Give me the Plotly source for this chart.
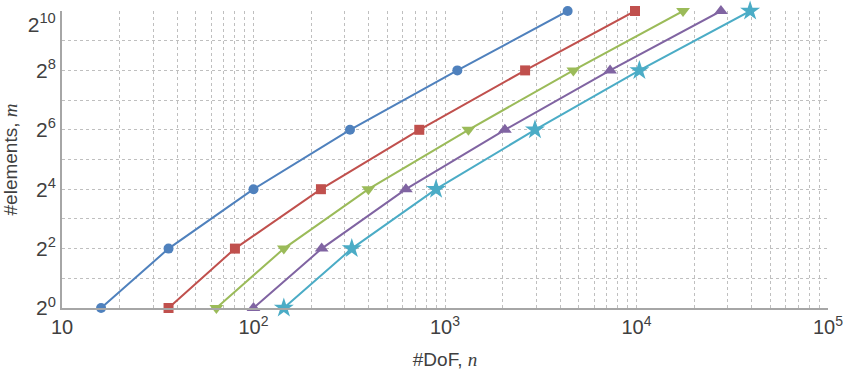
import math
import plotly.graph_objects as go

# Number of elements (powers of two) and degrees of freedom per discretisation
elements = [1, 4, 16, 64, 256, 1024]

dof_p1 = [16, 36, 100, 319, 1160, 4370]
dof_p2 = [36, 80, 225, 734, 2620, 9820]
dof_p3 = [64, 144, 398, 1325, 4680, 17500]
dof_p4 = [100, 227, 625, 2055, 7280, 27600]
dof_p5 = [144, 326, 898, 2950, 10350, 39200]

series = [
    ("p = 1", dof_p1, "#4F81BD", "circle", 10),
    ("p = 2", dof_p2, "#C0504D", "square", 10),
    ("p = 3", dof_p3, "#9BBB59", "triangle-down", 12),
    ("p = 4", dof_p4, "#8064A2", "triangle-up", 12),
    ("p = 5", dof_p5, "#4BACC6", "star", 15),
]

x_tickvals = [10, 100, 1000, 10000, 100000]
x_ticktext = ["10", "10<sup>2</sup>", "10<sup>3</sup>", "10<sup>4</sup>", "10<sup>5</sup>"]
y_tickvals = [2 ** k for k in range(11)]
y_ticktext = [f"2<sup>{k}</sup>" if k % 2 == 0 else "" for k in range(11)]
# the topmost label sits just below its gridline so it stays inside the page
y_ticktext[-1] = "<br>" + y_ticktext[-1]

fig = go.Figure()
for name, xs, color, symbol, size in series:
    fig.add_trace(go.Scatter(
        x=xs, y=elements, name=name, mode="lines+markers",
        line=dict(color=color, width=2),
        marker=dict(color=color, symbol=symbol, size=size, line=dict(width=0)),
        cliponaxis=False,
    ))

grid = dict(gridcolor="#BFBFBF", griddash="3px,3px", gridwidth=1)
font_main = "Liberation Sans, Arial, sans-serif"

fig.update_layout(
    width=845, height=371,
    margin=dict(l=62, r=17, t=11, b=63),
    paper_bgcolor="white", plot_bgcolor="white",
    showlegend=False,
    font=dict(family=font_main, size=19, color="#404040"),
    xaxis=dict(
        type="log", range=[1, 5],
        tickmode="array", tickvals=x_tickvals, ticktext=x_ticktext,
        showline=True, linecolor="#A6A6A6", linewidth=2,
        ticks="", showgrid=True, **grid,
        minor=dict(dtick="D1", showgrid=True, **grid),
        zeroline=False, automargin=False, ticklabeloverflow="allow",
        title=dict(text='#DoF, <span style="font-family:Liberation Serif"><i>n</i></span>',
                   standoff=16, font=dict(size=19)),
        tickfont=dict(size=20),
    ),
    yaxis=dict(
        type="log", range=[0, math.log10(1024)],
        tickmode="array", tickvals=y_tickvals, ticktext=y_ticktext,
        showline=True, linecolor="#A6A6A6", linewidth=2,
        ticks="", showgrid=True, **grid,
        zeroline=False, automargin=False, ticklabeloverflow="allow",
        title=dict(text='#elements, <span style="font-family:Liberation Serif"><i>m</i></span>',
                   standoff=8, font=dict(size=19)),
        tickfont=dict(size=21),
    ),
)

fig.write_html("out.html")
